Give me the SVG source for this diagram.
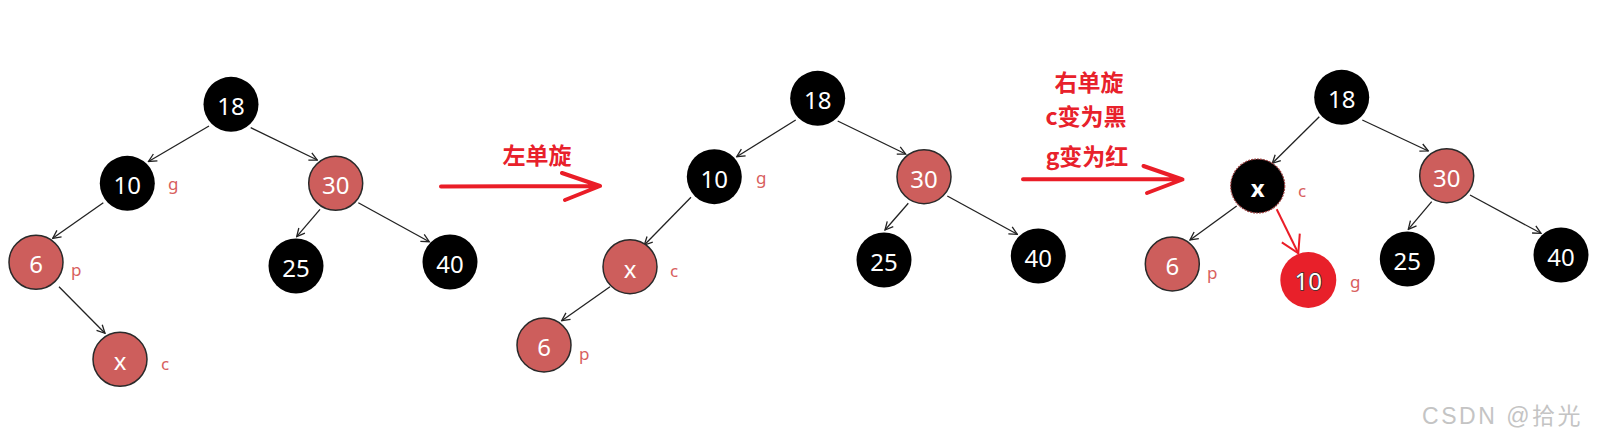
<svg xmlns="http://www.w3.org/2000/svg" width="1599" height="446" viewBox="0 0 1599 446">
<style>
.b{fill:#000}
.r{fill:#cd5e5c;stroke:#2a2a2a;stroke-width:1.5}
.t{font-family:"Noto Sans","Open Sans","Liberation Sans",sans-serif;font-size:24px;fill:#fff;text-anchor:middle}
.l{font-family:"Noto Sans","Open Sans","Liberation Sans",sans-serif;font-size:17px;fill:#d8605e}
.e{stroke:#222;stroke-width:1.3;fill:none;marker-end:url(#ah)}
.ra{stroke:#ea1d27;stroke-width:4;fill:none;stroke-linecap:round;stroke-linejoin:round}
.cap{font-family:"Noto Sans CJK SC","Noto Sans",sans-serif;font-size:23px;font-weight:bold;fill:#e8212b;text-anchor:middle}
</style>
<defs>
<marker id="ah" viewBox="0 0 10 10" refX="9" refY="5" markerWidth="10" markerHeight="10" markerUnits="userSpaceOnUse" orient="auto">
<path d="M1,1 L9,5 L1,9" fill="none" stroke="#222" stroke-width="1.3"/>
</marker>
<marker id="ahr" viewBox="-20 -12 22 24" refX="0" refY="0" markerWidth="22" markerHeight="24" markerUnits="userSpaceOnUse" orient="auto">
<path d="M-17,-10 L0,0 L-17,10" fill="none" stroke="#ea1d27" stroke-width="2"/>
</marker>
</defs>
<rect width="1599" height="446" fill="#fff"/>

<g id="connectors">
<line class="e" x1="209" y1="126" x2="148.5" y2="161.5"/>
<line class="e" x1="250.7" y1="127.7" x2="317.3" y2="160"/>
<line class="e" x1="103.3" y1="202.7" x2="52.7" y2="238.3"/>
<line class="e" x1="320" y1="209.3" x2="296.7" y2="236.7"/>
<line class="e" x1="358.3" y1="202.7" x2="429.3" y2="241.7"/>
<line class="e" x1="59" y1="286.7" x2="105" y2="333.3"/>

<line class="e" x1="795.7" y1="120" x2="736.7" y2="156.7"/>
<line class="e" x1="837.7" y1="121" x2="905.7" y2="154"/>
<line class="e" x1="691" y1="197.3" x2="644.3" y2="245"/>
<line class="e" x1="610" y1="286.7" x2="561.7" y2="320.7"/>
<line class="e" x1="908.3" y1="203.3" x2="885" y2="230"/>
<line class="e" x1="947.3" y1="196" x2="1017.3" y2="234.3"/>

<line class="e" x1="1319.3" y1="116.7" x2="1272.3" y2="163.3"/>
<line class="e" x1="1362.3" y1="120" x2="1428.3" y2="151"/>
<line class="e" x1="1236.7" y1="206" x2="1190" y2="240"/>
<line x1="1276.7" y1="209.3" x2="1298.3" y2="253.3" stroke="#ea1d27" stroke-width="2" marker-end="url(#ahr)"/>
<line class="e" x1="1431.7" y1="201.7" x2="1408.3" y2="229.3"/>
<line class="e" x1="1470" y1="195" x2="1541" y2="233.3"/>

<path class="ra" d="M441,186.5 L600,186 M562,173 L600,186 L565,200"/>
<path class="ra" d="M1023,179.3 L1182,179.3 M1143.5,166 L1182.5,179.5 L1147,193"/>
</g>

<g id="captions">
<text class="cap" x="537" y="164">左单旋</text>
<text class="cap" x="1089" y="90.5">右单旋</text>
<text class="cap" x="1086" y="124.5">c变为黑</text>
<text class="cap" x="1087" y="164.5">g变为红</text>
</g>

<!-- tree 1 -->
<g id="t1-18"><circle class="b" cx="231" cy="104.3" r="27.5"/><text class="t" x="231" y="115">18</text></g>
<g id="t1-10"><circle class="b" cx="127.3" cy="183.3" r="27.5"/><text class="t" x="127.3" y="194">10</text><text class="l" x="168" y="190">g</text></g>
<g id="t1-30"><circle class="r" cx="335.7" cy="183.3" r="27"/><text class="t" x="335.7" y="194">30</text></g>
<g id="t1-6"><circle class="r" cx="36" cy="262.3" r="27"/><text class="t" x="36" y="273">6</text><text class="l" x="71" y="276">p</text></g>
<g id="t1-25"><circle class="b" cx="296" cy="266" r="27.5"/><text class="t" x="296" y="276.5">25</text></g>
<g id="t1-40"><circle class="b" cx="450" cy="262" r="27.5"/><text class="t" x="450" y="272.5">40</text></g>
<g id="t1-x"><circle class="r" cx="120" cy="359.3" r="27"/><text class="t" x="120" y="370">x</text><text class="l" x="161" y="370">c</text></g>

<!-- tree 2 -->
<g id="t2-18"><circle class="b" cx="817.7" cy="98.3" r="27.5"/><text class="t" x="817.7" y="109">18</text></g>
<g id="t2-10"><circle class="b" cx="714.3" cy="176.7" r="27.5"/><text class="t" x="714.3" y="187.5">10</text><text class="l" x="756" y="184">g</text></g>
<g id="t2-30"><circle class="r" cx="924" cy="176.7" r="27"/><text class="t" x="924" y="187.5">30</text></g>
<g id="t2-x"><circle class="r" cx="630" cy="266.7" r="27"/><text class="t" x="630" y="277.5">x</text><text class="l" x="670" y="277">c</text></g>
<g id="t2-6"><circle class="r" cx="544" cy="345" r="27"/><text class="t" x="544" y="356">6</text><text class="l" x="579" y="360">p</text></g>
<g id="t2-25"><circle class="b" cx="884" cy="260" r="27.5"/><text class="t" x="884" y="270.5">25</text></g>
<g id="t2-40"><circle class="b" cx="1038.3" cy="256" r="27.5"/><text class="t" x="1038.3" y="266.5">40</text></g>

<!-- tree 3 -->
<g id="t3-18"><circle class="b" cx="1341.7" cy="97.3" r="27.5"/><text class="t" x="1341.7" y="108">18</text></g>
<g id="t3-x"><circle cx="1257.7" cy="186" r="27" fill="#000" stroke="#9a3c3c" stroke-width="1.2" stroke-dasharray="2 1"/><text class="t" x="1257.7" y="196.7" font-weight="bold">x</text><text class="l" x="1298" y="196.7">c</text></g>
<g id="t3-30"><circle class="r" cx="1446.7" cy="175.7" r="27"/><text class="t" x="1446.7" y="186.5">30</text></g>
<g id="t3-6"><circle class="r" cx="1172.3" cy="264" r="27"/><text class="t" x="1172.3" y="275">6</text><text class="l" x="1207" y="279">p</text></g>
<g id="t3-10"><circle cx="1308.3" cy="280" r="28" fill="#e8202a"/><text class="t" x="1308.3" y="290" stroke="#333" stroke-width="1.6" paint-order="stroke">10</text><text class="l" x="1350" y="288">g</text></g>
<g id="t3-25"><circle class="b" cx="1407.3" cy="259" r="27.5"/><text class="t" x="1407.3" y="269.5">25</text></g>
<g id="t3-40"><circle class="b" cx="1561" cy="255" r="27.5"/><text class="t" x="1561" y="265.5">40</text></g>

<text x="1583" y="424" text-anchor="end" font-family="'Liberation Sans','Noto Sans CJK SC',sans-serif" font-size="23" letter-spacing="2.5" fill="#c4c4c4">CSDN @拾光</text>
</svg>
